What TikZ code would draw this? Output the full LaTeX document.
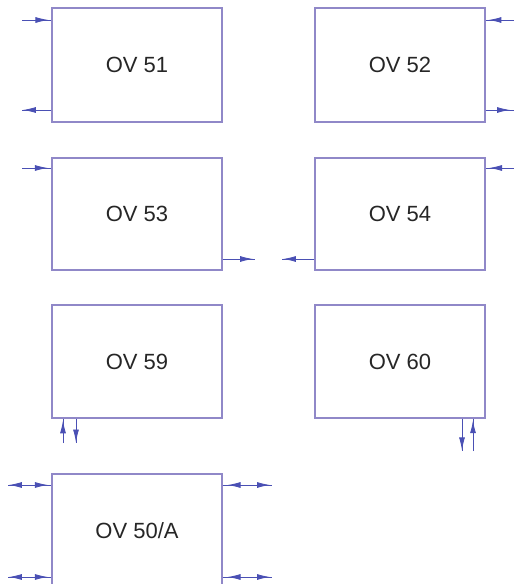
\documentclass[tikz,border=0pt]{standalone}
\usepackage{fontspec}
\setmainfont{Liberation Sans}
\usetikzlibrary{arrows.meta, decorations.markings}

\definecolor{boxline}{HTML}{9088C8}
\definecolor{flowline}{HTML}{4A50B4}

\tikzset{
  ovbox/.style={rectangle, draw=boxline, line width=1.2pt, minimum width=170pt, minimum height=113pt, inner sep=0pt, text=black!85, font=\fontsize{22}{26}\selectfont},
  flow/.style={draw=flowline, line width=0.9pt},
  tipat/.style={postaction={decorate}, decoration={markings, mark=at position #1 with {\arrow{Latex[length=13pt,width=6pt]}}}},
  twotips/.style 2 args={postaction={decorate}, decoration={markings,
      mark=at position #1 with {\arrowreversed{Latex[length=13pt,width=6pt]}},
      mark=at position #2 with {\arrow{Latex[length=13pt,width=6pt]}}}}
}

\begin{document}
\begin{tikzpicture}[x=1pt, y=-1pt]
\clip (0,0) rectangle (514,584);

% boxes
\node[ovbox, minimum height=114pt] (ov51) at (137,65) {OV 51};
\node[ovbox, minimum height=114pt] (ov52) at (400,65) {OV 52};
\node[ovbox, minimum height=112pt] (ov53) at (137,214) {OV 53};
\node[ovbox, minimum height=112pt] (ov54) at (400,214) {OV 54};
\node[ovbox] (ov59) at (137,361.5) {OV 59};
\node[ovbox] (ov60) at (400,361.5) {OV 60};
\node[ovbox, minimum height=114pt] (ov50a) at (137,531) {OV 50/A};

% free ends
\coordinate (in51) at (22,20);
\coordinate (out51) at (22,110);
\coordinate (in52) at (514,20);
\coordinate (out52) at (514,110);
\coordinate (in53) at (22,168);
\coordinate (out53) at (255,259);
\coordinate (out54) at (282,259);
\coordinate (in54) at (514,168);
\coordinate (up59) at (63,443);
\coordinate (dn59) at (76,443);
\coordinate (dn60) at (462,451);
\coordinate (up60) at (473,451);
\coordinate (w50a) at (8,485);
\coordinate (sw50a) at (8,577);
\coordinate (e50a) at (272,485);
\coordinate (se50a) at (272,577);

% connectors
\draw[flow, tipat=0.9] (in51) -- (in51 -| ov51.west);
\draw[flow, tipat=0.97] (out51 -| ov51.west) -- (out51);
\draw[flow, tipat=0.9] (in52) -- (in52 -| ov52.east);
\draw[flow, tipat=0.86] (out52 -| ov52.east) -- (out52);
\draw[flow, tipat=0.88] (in53) -- (in53 -| ov53.west);
\draw[flow, tipat=0.94] (out53 -| ov53.east) -- (out53);
\draw[flow, tipat=0.97] (out54 -| ov54.west) -- (out54);
\draw[flow, tipat=0.88] (in54) -- (in54 -| ov54.east);
\draw[flow, tipat=0.93] (up59) -- (up59 |- ov59.south);
\draw[flow, tipat=0.98] (dn59 |- ov59.south) -- (dn59);
\draw[flow, tipat=0.98] (dn60 |- ov60.south) -- (dn60);
\draw[flow, tipat=0.95] (up60) -- (up60 |- ov60.south);
\draw[flow, twotips={0.02}{0.92}] (w50a) -- (w50a -| ov50a.west);
\draw[flow, twotips={0.02}{0.92}] (sw50a) -- (sw50a -| ov50a.west);
\draw[flow, twotips={0.1}{0.96}] (e50a -| ov50a.east) -- (e50a);
\draw[flow, twotips={0.1}{0.96}] (se50a -| ov50a.east) -- (se50a);
\end{tikzpicture}
\end{document}
